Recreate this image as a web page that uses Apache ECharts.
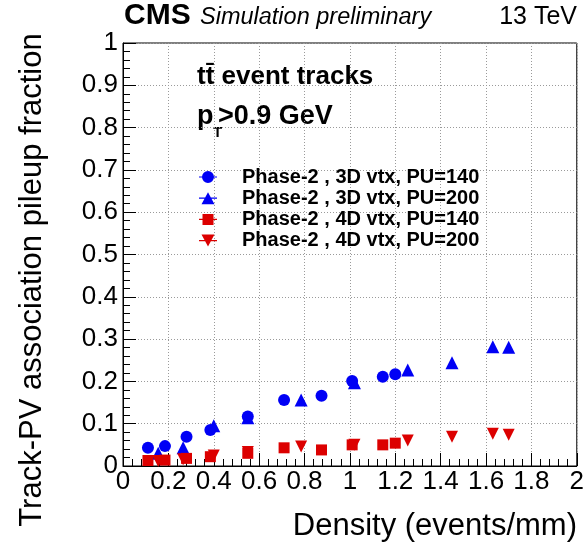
<!DOCTYPE html>
<html lang="en">
<head>
    <meta charset="UTF-8">
    <title>Track-PV association pileup fraction</title>
    <script src="https://cdn.jsdelivr.net/npm/echarts@6/dist/echarts.min.js"></script>
    <style>
        html, body { margin: 0; padding: 0; background: #ffffff; }
        #chart { width: 587px; height: 542px; }
    </style>
</head>
<body>
    <div id="chart"></div>
    <script>
        // density (events/mm) and pileup fraction
        var xPU140 = [0.11, 0.185, 0.28, 0.385, 0.55, 0.71, 0.875, 1.01, 1.145, 1.2];
        var xPU200 = [0.155, 0.265, 0.4, 0.55, 0.785, 1.02, 1.255, 1.45, 1.63, 1.7];
        var y3D140 = [0.043, 0.047, 0.069, 0.085, 0.117, 0.156, 0.166, 0.201, 0.211, 0.217];
        var y3D200 = [0.03, 0.043, 0.095, 0.114, 0.156, 0.197, 0.227, 0.244, 0.282, 0.281];
        var y4D140 = [0.013, 0.014, 0.018, 0.022, 0.03, 0.043, 0.038, 0.05, 0.05, 0.054];
        var y4D200 = [0.012, 0.016, 0.025, 0.033, 0.046, 0.05, 0.06, 0.069, 0.076, 0.074];

        var names = [
            'Phase-2 , 3D vtx, PU=140',
            'Phase-2 , 3D vtx, PU=200',
            'Phase-2 , 4D vtx, PU=140',
            'Phase-2 , 4D vtx, PU=200'
        ];

        var FONT = '"Liberation Sans", Arial, Helvetica, sans-serif';
        var BLUE = '#0000f5';
        var RED = '#dc0000';
        var DOWN = 'path://M0,0 L10,0 L5,10 Z';

        // legend icons: marker with the short horizontal line ROOT draws through it
        var BAR = 'M0,5.4 H18 V6.6 H0 Z ';
        var legendIcons = [
            'path://' + BAR + 'M3,6 A6,6 0 1 1 15,6 A6,6 0 1 1 3,6 Z',
            'path://' + BAR + 'M9,0 L15.5,12 L2.5,12 Z',
            'path://' + BAR + 'M3.5,0.5 H14.5 V11.5 H3.5 Z',
            'path://' + BAR + 'M2.5,0 H15.5 L9,12 Z'
        ];

        function pairs(xs, ys) {
            return xs.map(function (x, i) { return [x, ys[i]]; });
        }

        function scatter(name, xs, ys, symbol, size, color) {
            return {
                name: name,
                type: 'scatter',
                data: pairs(xs, ys),
                symbol: symbol,
                symbolSize: size,
                itemStyle: { color: color, opacity: 1 },
                emphasis: { disabled: true }
            };
        }

        var chart = echarts.init(document.getElementById('chart'));

        var axisCommon = {
            axisLine: { onZero: false, lineStyle: { color: '#000', width: 1 } },
            axisTick: { inside: true, length: 13, lineStyle: { color: '#000' } },
            minorTick: { show: true, splitNumber: 5, length: 7, lineStyle: { color: '#000' } },
            splitLine: { show: true, lineStyle: { color: '#9a9a9a', type: [1, 2], width: 1 } },
            axisLabel: { color: '#000', fontFamily: FONT, fontSize: 26 }
        };

        chart.setOption({
            animation: false,
            backgroundColor: '#ffffff',
            grid: {
                left: 123, right: 10, top: 43, bottom: 76,
                show: true, borderColor: '#000', borderWidth: 1
            },
            xAxis: Object.assign({}, axisCommon, {
                type: 'value', min: 0, max: 2, interval: 0.2,
                axisLabel: Object.assign({}, axisCommon.axisLabel, { margin: 3 })
            }),
            yAxis: Object.assign({}, axisCommon, {
                type: 'value', min: 0, max: 1, interval: 0.1,
                axisLabel: Object.assign({}, axisCommon.axisLabel, { margin: 5 })
            }),
            legend: {
                orient: 'vertical',
                left: 194, top: 162,
                itemWidth: 18, itemHeight: 12, itemGap: 1.2,
                selectedMode: false,
                data: names.map(function (n, i) { return { name: n, icon: legendIcons[i] }; }),
                formatter: function (name) { return '{g|}' + name; },
                textStyle: {
                    fontFamily: FONT, fontSize: 20, fontWeight: 'bold', color: '#000', lineHeight: 20,
                    rich: { g: { width: 20 } }
                }
            },
            series: [
                scatter(names[0], xPU140, y3D140, 'circle', 12, BLUE),
                scatter(names[1], xPU200, y3D200, 'triangle', 13, BLUE),
                scatter(names[2], xPU140, y4D140, 'rect', 11, RED),
                scatter(names[3], xPU200, y4D200, DOWN, 12, RED)
            ],
            graphic: [
                { type: 'text', left: 124, top: 1, style: { text: 'CMS', font: 'bold 30px ' + FONT, fill: '#000' } },
                { type: 'text', left: 200, top: 6, style: { text: 'Simulation preliminary', font: 'italic 23.5px ' + FONT, fill: '#000' } },
                { type: 'text', right: 10, top: 5, style: { text: '13 TeV', font: '25px ' + FONT, fill: '#000' } },
                { type: 'text', left: 197, top: 64, style: { text: 'tt\u0304 event tracks', font: 'bold 26px ' + FONT, fill: '#000' } },
                { type: 'text', left: 197, top: 103, style: { text: 'p', font: 'bold 27px ' + FONT, fill: '#000' } },
                { type: 'text', left: 213, top: 125, style: { text: 'T', font: 'bold 15px ' + FONT, fill: '#000' } },
                { type: 'text', left: 218, top: 103, style: { text: '>0.9 GeV', font: 'bold 27px ' + FONT, fill: '#000' } },
                { type: 'text', right: 10, top: 511, style: { text: 'Density (events/mm)', font: '31px ' + FONT, fill: '#000' } },
                {
                    type: 'text', x: 32, y: 280, rotation: Math.PI / 2,
                    style: {
                        text: 'Track-PV association pileup fraction', font: '31px ' + FONT, fill: '#000',
                        align: 'center', verticalAlign: 'middle'
                    }
                }
            ]
        });
    </script>
</body>
</html>
